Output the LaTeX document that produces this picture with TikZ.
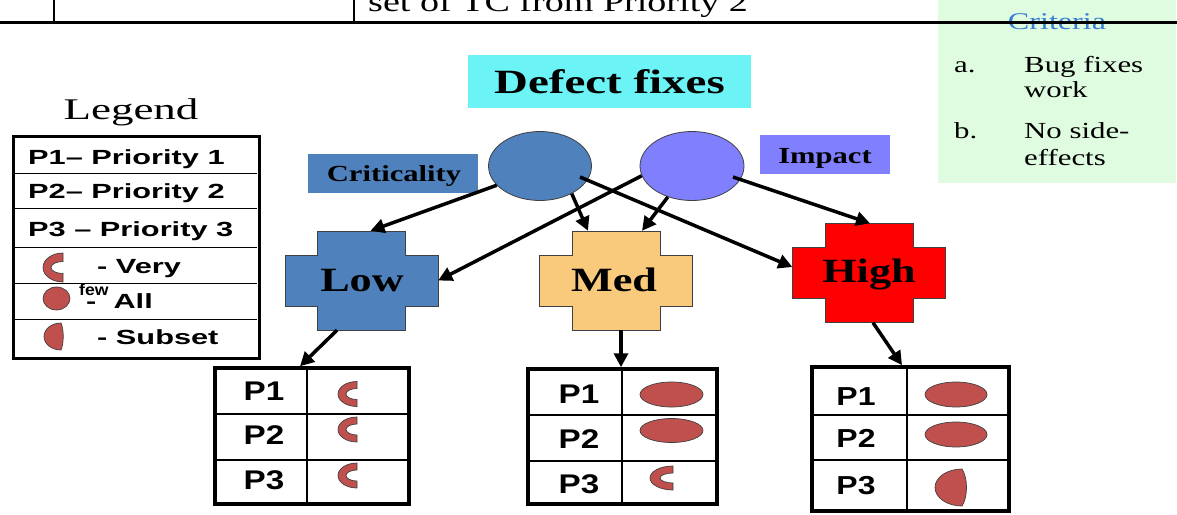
\documentclass[tikz,border=0pt]{standalone}
\usepackage{fontspec}
\usetikzlibrary{arrows.meta,shapes.geometric,calc}
\newfontfamily\fTop[FakeStretch=1.36]{Liberation Serif}
\newfontfamily\fLegT[FakeStretch=1.5]{Liberation Serif}
\newfontfamily\fCrit[FakeStretch=1.34]{Liberation Serif}
\newfontfamily\fLbl[FakeStretch=1.33]{Liberation Serif}
\newfontfamily\fCross[FakeStretch=1.3]{Liberation Serif}
\newfontfamily\fDef[FakeStretch=1.38]{Liberation Serif}
\newfontfamily\fLegS[FakeStretch=1.5]{Liberation Sans}
\newfontfamily\fTab[FakeStretch=1.23]{Liberation Sans}
\newfontfamily\fFew[FakeStretch=1.1]{Liberation Sans}
\newcommand\setfs[1]{\fontsize{#1}{#1}\selectfont}
\definecolor{critblue}{HTML}{4F81BD}
\definecolor{impblue}{HTML}{8080FF}
\definecolor{medorange}{HTML}{F9C97C}
\definecolor{highred}{HTML}{FF0000}
\definecolor{defcyan}{HTML}{6CF3F6}
\definecolor{critgreen}{HTML}{E0FCE0}
\definecolor{crittext}{HTML}{3A7FD5}
\definecolor{shapered}{HTML}{C0504D}
\definecolor{outl}{HTML}{404040}
\newcommand\drawcross[2]{\filldraw[fill=#2, draw=outl, line width=0.8pt, shift={(#1)}]
 (-44,-49.5) -- (44,-49.5) -- (44,-25.5) -- (76.5,-25.5) -- (76.5,25.5) -- (44,25.5) -- (44,49.5)
 -- (-44,49.5) -- (-44,25.5) -- (-76.5,25.5) -- (-76.5,-25.5) -- (-44,-25.5) -- cycle;}
\newcommand\crescent[6]{\filldraw[redshape] (#1,#2-#4) arc[start angle=-90,end angle=-270,x radius=#3,y radius=#4]
 -- (#1,#2+#6) arc[start angle=90,end angle=270,x radius=#5,y radius=#6] -- cycle;}
\newcommand\dshape[5]{\filldraw[redshape] (#1,#2-#4) arc[start angle=-90,end angle=-270,x radius=#3,y radius=#4]
 .. controls (#1+#5,#2+0.5*#4) and (#1+#5,#2-0.5*#4) .. (#1,#2-#4) -- cycle;}
\begin{document}
\begin{tikzpicture}[x=1pt,y=-1pt,
  txt/.style={inner sep=0pt},
  redshape/.style={fill=shapered, draw=outl, line width=0.7pt},
  conn/.style={line width=3.5pt, -{Triangle[length=14pt,width=14pt]}},
  crossnode/.style={minimum width=153pt, minimum height=99pt, inner sep=0pt},
  tabbox/.style={draw, line width=3.5pt, inner sep=0pt},
  thinrule/.style={line width=1.5pt},
  legrule/.style={line width=1pt}]
\useasboundingbox (0,0) rectangle (1177,514);
\clip (0,0) rectangle (1177,514);
% criteria box
\node[fill=critgreen, minimum width=238pt, minimum height=183pt, anchor=north west, inner sep=0pt] (critbox) at (938,0) {};
\node[txt, anchor=base, text=crittext] (crittitle) at (1057,29) {\fCrit\setfs{24}Criteria};
\node[txt, anchor=base west] (ca) at (954,72) {\fCrit\setfs{23}a.};
\node[txt, anchor=base west] (ca1) at (1024,72) {\fCrit\setfs{23}Bug fixes};
\node[txt, anchor=base west] (ca2) at (1024,97) {\fCrit\setfs{23}work};
\node[txt, anchor=base west] (cb) at (954,138) {\fCrit\setfs{23}b.};
\node[txt, anchor=base west] (cb1) at (1024,138) {\fCrit\setfs{23}No side-};
\node[txt, anchor=base west] (cb2) at (1024,165) {\fCrit\setfs{23}effects};
% top table fragment
\node[txt, anchor=base west] (toptext) at (368,12) {\fTop\setfs{28}set of TC from Priority 2};
\draw[line width=3pt] (0,22.5) -- (1177,22.5);
\draw[line width=2pt] (54,0) -- (54,22) (354,0) -- (354,22);
% defect fixes
\node[fill=defcyan, minimum width=283pt, minimum height=53pt, inner sep=0pt] (defect) at (609.5,81.5) {\fDef\bfseries\setfs{34}Defect fixes};
% legend
\node[txt, anchor=base] (legtitle) at (131,119) {\fLegT\setfs{30}Legend};
\node[draw, line width=3pt, minimum width=246pt, minimum height=222pt, anchor=north west, inner sep=0pt] (legend) at (12,135) {};
\foreach \yy in {173,208,247,283,319} \draw[legrule] (13.5,\yy) -- (256.5,\yy);
\node[txt, anchor=base west] (l1) at (28,164) {\fLegS\bfseries\setfs{20.5}P1– Priority 1};
\node[txt, anchor=base west] (l2) at (28,198) {\fLegS\bfseries\setfs{20.5}P2– Priority 2};
\node[txt, anchor=base west] (l3) at (28,236) {\fLegS\bfseries\setfs{20.5}P3 – Priority 3};
\node[txt, anchor=base west] (l4) at (97,273) {\fLegS\bfseries\setfs{20.5}- Very};
\node[txt, anchor=base west] (l5) at (86,308) {\fLegS\bfseries\setfs{20.5}- \ All};
\node[txt, anchor=base west] (l5b) at (79,295) {\fFew\bfseries\setfs{16}few};
\node[txt, anchor=base west] (l6) at (97,344) {\fLegS\bfseries\setfs{20.5}- Subset};
\crescent{63}{267.5}{20}{14.5}{12}{6}
\filldraw[redshape] (56.5,298.5) ellipse[x radius=13.5, y radius=11.5];
\dshape{61}{336.5}{17}{13.5}{3}
% criticality / impact
\node[fill=critblue, minimum width=170pt, minimum height=39pt, inner sep=0pt] (critlbl) at (393,173.5) {};
\node[txt, anchor=base] (critlbltxt) at (394,181.5) {\fLbl\bfseries\setfs{23}Criticality};
\node[fill=impblue, minimum width=130pt, minimum height=39pt, inner sep=0pt] (implbl) at (825,154.5) {};
\node[txt, anchor=base] (implbltxt) at (825,163) {\fLbl\bfseries\setfs{23}Impact};
\node[ellipse, draw=outl, line width=0.8pt, fill=critblue, minimum width=103pt, minimum height=69pt, inner sep=0pt] (crit) at (540,166) {};
\node[ellipse, draw=outl, line width=0.8pt, fill=impblue, minimum width=104pt, minimum height=69pt, inner sep=0pt] (imp) at (692,166) {};
% crosses
\coordinate (lowc) at (361.5,280.5);
\coordinate (medc) at (616,280.5);
\coordinate (highc) at (869,273);
\drawcross{lowc}{critblue}
\drawcross{medc}{medorange}
\drawcross{highc}{highred}
\node[crossnode] (low) at (lowc) {};
\node[crossnode] (med) at (medc) {};
\node[crossnode] (high) at (highc) {};
\node[txt, anchor=base] (lowtxt) at (362,291) {\fCross\bfseries\setfs{34}Low};
\node[txt, anchor=base] (medtxt) at (614,291) {\fCross\bfseries\setfs{34}Med};
\node[txt, anchor=base] (hightxt) at (869,282) {\fCross\bfseries\setfs{34}High};
% tables
\node[tabbox, minimum width=194pt, minimum height=136pt] (lowtab) at (312,436) {};
\draw[thinrule] (307,368) -- (307,504) (215,414) -- (409,414) (215,460) -- (409,460);
\node[tabbox, minimum width=189pt, minimum height=135pt] (medtab) at (622.5,436.5) {};
\draw[thinrule] (622,369) -- (622,504) (528,415) -- (717,415) (528,461) -- (717,461);
\node[tabbox, minimum width=197pt, minimum height=144pt] (hightab) at (910.5,439) {};
\draw[thinrule] (907,367) -- (907,511) (812,415) -- (1009,415) (812,460) -- (1009,460);
\node[txt] (lp1) at (264,391) {\fTab\bfseries\setfs{27}P1};
\node[txt] (lp2) at (264,435) {\fTab\bfseries\setfs{27}P2};
\node[txt] (lp3) at (264,480) {\fTab\bfseries\setfs{27}P3};
\node[txt] (mp1) at (579,394) {\fTab\bfseries\setfs{27}P1};
\node[txt] (mp2) at (579,439) {\fTab\bfseries\setfs{27}P2};
\node[txt] (mp3) at (579,484) {\fTab\bfseries\setfs{27}P3};
\node[txt] (hp1) at (856,397) {\fTab\bfseries\setfs{26}P1};
\node[txt] (hp2) at (856,438) {\fTab\bfseries\setfs{26}P2};
\node[txt] (hp3) at (856,486) {\fTab\bfseries\setfs{26}P3};
\crescent{357}{394}{19}{12.5}{11}{5.5}
\crescent{357}{429.5}{19}{12.5}{11}{5.5}
\crescent{357}{475.5}{19}{12.5}{11}{5.5}
\filldraw[redshape] (671.5,394.5) ellipse[x radius=31.5, y radius=12.5];
\filldraw[redshape] (671.5,430.5) ellipse[x radius=31.5, y radius=12];
\crescent{673}{478}{23}{12}{13}{5}
\filldraw[redshape] (956,394.5) ellipse[x radius=31, y radius=12.5];
\filldraw[redshape] (956,434.5) ellipse[x radius=31, y radius=12.5];
\dshape{962}{487.5}{27}{18.5}{6}
% connectors
\draw[conn] (crit.204) -- ($(low.north)+(9,0)$);
\draw[conn] (crit.319) -- ($(med.north)+(-28,0)$);
\draw[conn] ($(crit.center)+(40,11)$) -- ($(high.west)+(0,-6)$);
\draw[conn] (imp.191) -- (low.east);
\draw[conn] (imp.232) -- ($(med.north)+(26,0)$);
\draw[conn] ($(imp.center)+(41,11)$) -- ($(high.north)+(1,0)$);
\draw[conn] ($(low.south)+(-24.5,0)$) -- ($(lowtab.north)+(-12,0)$);
\draw[conn] ($(med.south)+(5,0)$) -- ($(medtab.north)+(-1.5,0)$);
\draw[conn] ($(high.south)+(4,0)$) -- ($(hightab.north)+(-8.5,0)$);
\end{tikzpicture}
\end{document}
